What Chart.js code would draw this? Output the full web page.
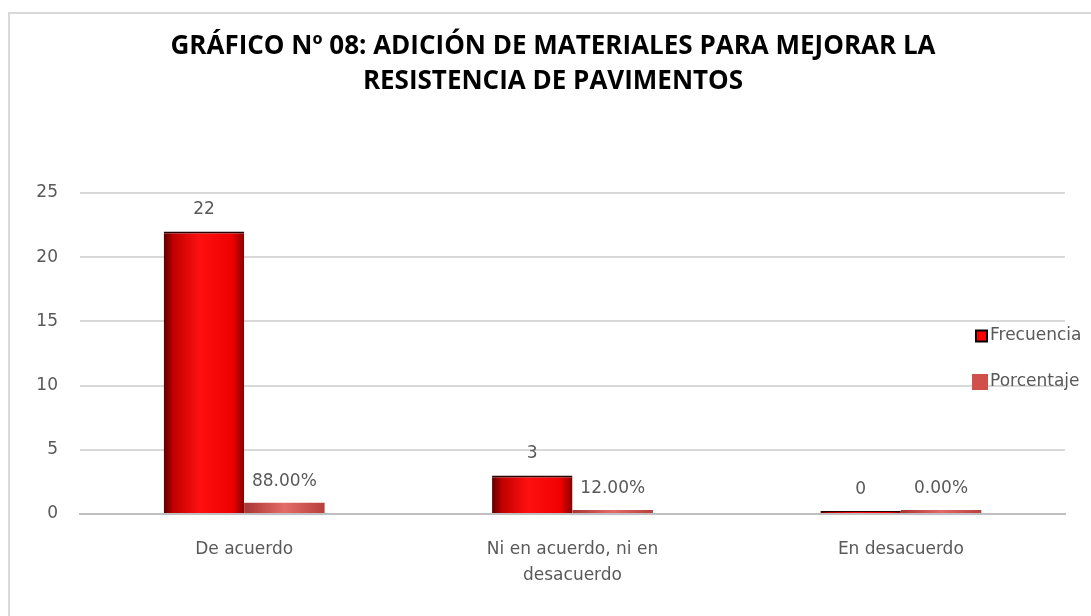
<!DOCTYPE html>
<html lang="es">
<head>
  <meta charset="UTF-8">
  <title>Gráfico Nº 08</title>
  <script src="https://cdn.jsdelivr.net/npm/chart.js"></script>
  <style>
    body { margin: 0; padding: 0; background: #fff; }
    .frame { position: absolute; left: 8px; top: 12px; width: 1100px; height: 620px; border-left: 2px solid #d9d9d9; border-top: 2px solid #d9d9d9; }
    .wrap { position: absolute; left: 0; top: 0; width: 1091px; height: 616px; }
  </style>
</head>
<body>
  <div class="frame"></div>
  <div class="wrap"><canvas id="chart" width="1091" height="616"></canvas></div>
  <script>
    const titleLines = ['GRÁFICO Nº 08: ADICIÓN DE MATERIALES PARA MEJORAR LA', 'RESISTENCIA DE PAVIMENTOS'];
    const categories = ['De acuerdo', ['Ni en acuerdo, ni en', 'desacuerdo'], 'En desacuerdo'];
    const frecuencia = [22, 3, 0];
    const porcentaje = [0.88, 0.12, 0.00];
    const yTicks = [0, 5, 10, 15, 20, 25];

    const grey = '#595959';
    const titleFont = "'Open Sans', sans-serif";
    const bodyFont = "'DejaVu Sans', sans-serif";

    // horizontal shading so the bars look a bit like Excel's 3D columns
    const shadePlugin = {
      id: 'shade',
      beforeDatasetsDraw(chart) {
        const c = chart.ctx;
        chart.data.datasets.forEach((ds, i) => {
          chart.getDatasetMeta(i).data.forEach(bar => {
            const x0 = bar.x - bar.width / 2, x1 = bar.x + bar.width / 2;
            const g = c.createLinearGradient(x0, 0, x1, 0);
            if (i === 0) {
              g.addColorStop(0, '#5c0000');
              g.addColorStop(0.12, '#c00000');
              g.addColorStop(0.45, '#ff1010');
              g.addColorStop(0.85, '#f00000');
              g.addColorStop(1, '#8a0000');
            } else {
              g.addColorStop(0, '#a83632');
              g.addColorStop(0.5, '#e46c68');
              g.addColorStop(1, '#b8403c');
            }
            bar.options.backgroundColor = g;
          });
        });
      }
    };

    const labelPlugin = {
      id: 'valueLabels',
      afterDatasetsDraw(chart) {
        const c = chart.ctx;
        c.save();
        c.font = '17px ' + bodyFont;
        c.fillStyle = grey;
        c.textAlign = 'center';
        c.textBaseline = 'bottom';
        chart.data.datasets.forEach((ds, i) => {
          chart.getDatasetMeta(i).data.forEach((bar, j) => {
            const v = ds.data[j];
            const txt = i === 0 ? String(v) : (v * 100).toFixed(2) + '%';
            c.fillText(txt, bar.x, bar.y - 13);
          });
        });
        c.restore();
      }
    };

    // the Excel title sits a little right of the plot centre
    const titlePlugin = {
      id: 'offsetTitle',
      afterDraw(chart) {
        const c = chart.ctx;
        c.save();
        c.font = 'bold 26px ' + titleFont;
        c.fillStyle = '#000';
        c.textAlign = 'center';
        c.textBaseline = 'middle';
        titleLines.forEach((t, k) => c.fillText(t, 553, 47 + k * 35));
        c.restore();
      }
    };

    const legendPlugin = {
      id: 'sideLegend',
      afterDraw(chart) {
        const c = chart.ctx;
        c.save();
        c.font = '17px ' + bodyFont;
        c.textBaseline = 'middle';
        const items = [
          { text: chart.data.datasets[0].label, fill: '#ff0000', stroke: '#000', s: 11 },
          { text: chart.data.datasets[1].label, fill: '#d0504c', stroke: '#d0504c', s: 14 }
        ];
        items.forEach((it, k) => {
          const y = 336 + k * 46;
          c.fillStyle = it.fill;
          c.fillRect(987 - it.s, y - it.s / 2, it.s, it.s);
          c.strokeStyle = it.stroke;
          c.lineWidth = 2;
          c.strokeRect(987 - it.s, y - it.s / 2, it.s, it.s);
          c.fillStyle = grey;
          c.fillText(it.text, 990, y);
        });
        c.restore();
      }
    };

    const solid = col => () => col; // scriptable, so every bar gets its own options object

    new Chart(document.getElementById('chart'), {
      type: 'bar',
      data: {
        labels: categories,
        datasets: [
          { label: 'Frecuencia', data: frecuencia, backgroundColor: solid('#ff0000'), borderColor: '#2a0000', borderWidth: { top: 2 }, borderSkipped: 'bottom', minBarLength: 3 },
          { label: 'Porcentaje', data: porcentaje, backgroundColor: solid('#d0504c'), borderWidth: 0, minBarLength: 4 }
        ]
      },
      options: {
        responsive: false,
        animation: false,
        layout: { padding: { left: 0, right: 26, top: 193, bottom: 13 } },
        categoryPercentage: 0.49,
        barPercentage: 1,
        plugins: {
          legend: { display: false },
          tooltip: { enabled: false },
          title: { display: false }
        },
        scales: {
          x: {
            grid: { display: false },
            border: { color: '#bfbfbf', width: 2 },
            ticks: { color: grey, font: { family: bodyFont, size: 17, lineHeight: 1.5 }, padding: 15, maxRotation: 0 }
          },
          y: {
            min: 0,
            max: 25,
            afterBuildTicks(scale) { scale.ticks = yTicks.map(v => ({ value: v })); },
            afterFit(scale) { scale.width = 80; },
            grid: { color: '#d9d9d9', lineWidth: 2, drawTicks: false },
            border: { display: false },
            ticks: { color: grey, font: { family: bodyFont, size: 17 }, padding: 22 }
          }
        }
      },
      plugins: [shadePlugin, labelPlugin, titlePlugin, legendPlugin]
    });
  </script>
</body>
</html>
